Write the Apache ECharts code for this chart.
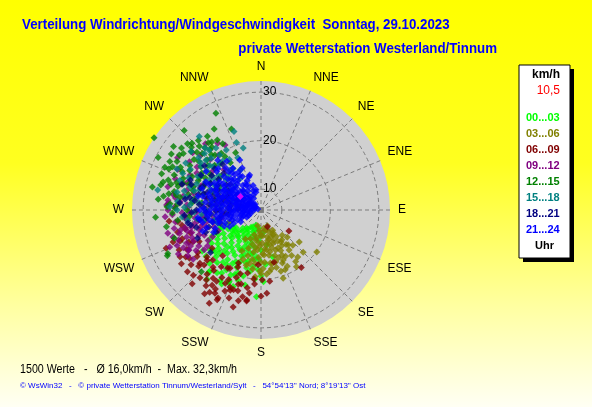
<!DOCTYPE html>
<html><head><meta charset="utf-8">
<script src="https://cdn.jsdelivr.net/npm/echarts@6/dist/echarts.min.js"></script>
<style>html,body{margin:0;padding:0;background:#fff}#c{width:592px;height:407px;}</style>
</head><body><div id="c"></div>
<script>
// ---- data ----
const directions = ['N','NNE','NE','ENE','E','ESE','SE','SSE','S','SSW','SW','WSW','W','WNW','NW','NNW'];
const radiusTicks = [10, 20, 30];
const speedMin = 5.7;
const speedMax = 32.3;
const hourRanges = ['00...03','03...06','06...09','09...12','12...15','15...18','18...21','21...24'];
const currentSpeed = '10,5';
const titleText = 'Verteilung Windrichtung/Windgeschwindigkeit  Sonntag, 29.10.2023';
const subtitleText = 'private Wetterstation Westerland/Tinnum';
const statsText = '1500 Werte   -   \u00D8 16,0km/h  -  Max. 32,3km/h';
const footerText = '\u00A9 WsWin32   -   \u00A9 private Wetterstation Tinnum/Westerland/Sylt   -   54\u00B054\'13\'\' Nord; 8\u00B019\'13\'\' Ost';

// points as [direction in degrees, speed km/h]
const h00_03 = [[180,19.3],[183,23.6],[166,15.7],[204,21.8],[220,22.5],[204,22.1],[253,15.0],[228,18.5],[220,22.2],
 [195,10.0],[205,9.5],[215,10.5],[225,11.0],[235,12.0],[200,12.0],[210,12.5],[220,13.0],[230,14.0],[240,13.5],[190,13.5],
 [198,14.5],[208,15.0],[218,15.5],[228,16.0],[236,16.5],[188,16.0],[196,17.0],[206,17.5],[214,18.0],[224,19.0],[232,19.0],
 [200,19.5],[210,20.0],[190,18.5],[185,12.0],[212,11.0],[222,17.0],[203,16.0],[215,13.5],[226,14.0],[193,15.0],[245,14.5],
 [242,17.0],[180,14.0],[185,20.0],[198,21.0],[210,22.5],[235,20.5],[175,17.0],[180,11.0],[205,13.0],
 [188,9.5],[200,10.5],[210,9.8],[220,11.5],[230,12.5],[238,14.8],[196,12.8],[204,14.0],[213,14.5],[222,14.8],[232,15.2],
 [240,15.8],[190,14.8],[200,15.5],[210,16.5],[218,17.0],[228,17.5],[236,18.0],[194,18.0],[203,18.5],[212,19.0],[220,19.8],
 [230,20.5],[215,21.5],[205,20.5],[195,19.8],[226,12.0],[234,13.0],[244,16.0],[248,13.0],[185,15.5],[183,18.0],[178,20.5],
 [192,21.5],[200,22.5],[208,23.0],[218,23.8],[170,13.0],[176,10.5],
 [192,11.5],[198,9.0],[206,11.5],[214,12.0],[222,12.8],[230,13.2],[238,12.5],[194,16.5],[202,17.2],[208,18.2],[216,19.0],
 [224,18.0],[232,17.0],[240,18.0],[246,15.0],[198,13.5],[206,14.8],[214,16.0],[222,16.0],[230,18.8],[188,17.5],[182,16.0],
 [212,21.0],[202,20.0],[224,21.0],[196,11.0],[218,10.5]];
const h03_06 = [[127,20.1],[158,19.0],[142,14.8],[145,13.2],[156,14.3],[154,11.4],[164,13.8],[160,16.2],[176,15.0],[181,18.3],
 [170,16.8],[167,11.4],[249,12.7],[150,12.0],[160,10.5],[172,9.5],[185,10.0],[195,11.0],[178,12.5],[188,13.5],[168,14.5],
 [152,16.5],[165,18.0],[175,19.0],[190,16.0],[198,14.0],[183,15.5],[172,13.0],[158,12.5],[146,17.0],[138,15.5],[135,18.0],
 [148,19.5],[162,20.5],[185,19.5],[195,17.5],[205,15.0],[200,12.0],[180,11.0],[170,10.0],[163,15.5],[155,18.5],[140,12.5],
 [130,16.0],[208,12.5],[192,9.0],
 [145,15.8],[150,14.2],[155,16.0],[160,13.0],[165,12.0],[170,15.2],[175,13.8],[180,16.5],[185,14.0],[190,12.0],[178,17.8],
 [168,17.0],[158,17.5],[152,13.0],[162,19.0],[172,18.5],[188,18.0],[196,15.5],[182,13.2],[200,16.5],[150,10.5],[142,18.0],
 [136,13.5],[166,10.0],[158,9.2],
 [148,13.5],[154,15.0],[160,14.5],[166,13.0],[172,14.0],[178,14.8],[184,12.5],[190,14.5],[194,13.0],[176,11.0],[182,10.5],
 [188,11.5],[164,16.8],[170,18.0],[176,16.5],[156,17.0],[146,18.5],[186,16.8],[192,17.0],[180,18.8],[160,11.5],[168,12.2],
 [152,11.0],[144,14.5]];
const h06_09 = [[248,26.8],[249,23.6],[226,25.1],[213,24.2],[209,27.7],[206,25.9],[189,24.7],[197,21.7],[210,21.8],[220,21.1],
 [227,20.9],[210,19.5],[203,17.6],[236,21.4],[245,21.2],[202,22.8],[209,25.3],[127,12.9],[145,20.2],[159,9.4],[183,17.0],
 [166,16.8],[179,20.1],[176,22.9],[189,24.5],[199,23.1],[195,21.5],[205,21.5],[208,19.3],[202,18.4],[262,23.0],
 [212,25.7],[206,26.3],[201,23.4],[229,22.4],[236,23.5],[229,20.5],[263,24.8],[259,22.3],[215,22.9],[255,23.5],[218,24.0],
 [232,24.0],[196,26.5],[223,26.5],[240,25.0],[215,20.0],[200,20.5],[220,18.0],[252,21.0],[265,21.5],[185,21.0],[192,19.0],
 [204,24.0],[214,26.5],[222,24.5],[230,25.5],[226,22.0],[218,21.5],[212,23.0],[196,23.0],[190,22.0],[200,25.0],[236,25.5],
 [242,23.0],[250,25.0],[256,21.8],[243,20.0],[232,18.5],[224,20.0],[198,19.5],[180,23.5],[173,20.5],
 [228,23.0],[234,22.0],[238,24.0],[244,24.5],[246,22.0],[250,23.0],[220,23.0],[216,25.0],[210,24.5],[206,22.5],[194,25.0],
 [188,23.0],[186,20.0],[192,24.0]];
const h09_12 = [[296,24.8],[274,24.9],[256,22.8],[267,24.0],[241,22.7],[254,23.2],[310,24.1],[331,21.0],[304,23.5],[304,21.6],
 [327,22.1],[280,24.1],[276,22.5],[270,24.9],[272,20.8],[257,21.8],[252,20.7],[254,18.8],[258,17.1],[263,19.4],[241,22.8],
 [240,18.3],[241,17.1],[265,17.7],[253,24.7],[273,25.2],[262,21.0],[248,19.5],[268,19.0],[245,21.0],[285,21.5],[292,19.0],
 [300,21.0],[315,20.5],[320,23.5],[260,15.5],[250,16.0],[278,20.0],[288,23.0],[258,24.0],[235,20.0],[247,24.5],[270,15.0],
 [283,17.5],[308,18.5],[318,17.0],[264,13.5],
 [244,23.5],[250,22.0],[256,20.5],[262,23.5],[268,22.0],[274,21.0],[246,18.5],[252,17.5],[238,21.5],[234,23.0],[260,19.0],
 [266,25.5],[278,23.5],[284,25.5],[290,24.5],[302,26.0],[312,22.5],[322,20.0],[296,22.0],[256,25.5],[248,26.0],[271,17.0],
 [244,15.5],[258,14.0],
 [236,19.0],[240,20.5],[243,22.0],[246,22.5],[250,23.8],[254,21.5],[258,19.8],[262,18.0],[238,23.5],[242,25.0],[248,21.0],
 [252,19.0],[256,18.0],[264,21.5],[268,20.5],[272,23.5],[276,25.0],[280,22.0],[284,20.0],[290,22.0]];
const h12_15 = [[304,32.3],[335,27.7],[282,28.6],[244,27.2],[306,28.0],[312,26.1],[312,25.0],[322,23.3],[328,22.7],[322,22.2],
 [336,18.6],[294,27.4],[286,26.7],[272,25.1],[300,25.7],[299,22.5],[313,20.9],[319,18.5],[327,17.3],[302,20.1],[289,22.7],
 [279,22.6],[286,20.3],[290,16.5],[270,21.0],[277,18.0],[245,26.9],[224,23.4],[271,23.4],[288,25.8],[296,23.8],[308,22.0],
 [316,24.0],[305,18.5],[295,20.0],[282,24.0],[292,18.5],[310,16.5],[300,15.5],[265,20.5],[275,16.0],[318,21.0],[325,20.0],
 [285,14.5],[298,17.5],[263,23.0],[330,25.0],[316,28.5],[297,29.5],[307,23.0],[289,20.5],[280,19.5],
 [298,27.0],[304,26.0],[310,24.5],[318,23.0],[324,24.5],[292,25.0],[286,23.5],[280,25.0],[274,23.0],[268,24.0],[302,23.0],
 [310,20.0],[296,21.5],[290,21.5],[282,21.0],[276,20.0],[300,19.0],[314,19.0],[320,20.5],[294,26.5],[306,25.5],[284,27.0],
 [278,26.0],[330,21.5],[340,23.5],[260,25.5],[266,27.5],[252,24.5],[298,24.5],[288,24.0],[314,22.5],[326,19.0],
 [296,26.0],[302,27.5],[308,26.5],[314,25.5],[320,22.0],[292,23.0],[286,25.0],[280,23.5],[274,24.5],[306,21.0],[298,20.0],
 [312,23.5],[318,25.0],[324,23.0],[290,27.5],[276,27.0]];
const h15_18 = [[341,22.8],[340,20.5],[281,27.4],[323,19.9],[315,22.2],[318,23.0],[295,23.5],[282,23.4],[288,21.1],[277,18.6],
 [311,15.2],[322,16.1],[311,19.7],[274,20.4],[272,24.5],[319,22.0],[300,18.0],[305,16.5],[290,15.5],[285,18.0],[298,20.5],
 [308,21.5],[280,16.0],[293,13.5],[302,14.0],[270,17.0],[265,22.0],[328,18.0],[296,25.0],[313,13.0],[287,12.0],[275,14.0],
 [262,19.0],[310,24.5],[333,15.0],[258,15.5],
 [300,22.5],[306,19.5],[312,21.0],[318,18.5],[324,21.5],[330,20.0],[292,17.0],[286,20.0],[280,21.5],[276,23.0],[268,19.5],
 [296,15.0],[304,13.0],[316,15.5],[326,13.5],[290,23.5],[302,24.0],[309,17.0],[284,15.0],[272,21.5],[260,17.5],[336,17.5],
 [344,19.0],[320,25.5],
 [300,20.0],[296,18.5],[292,20.0],[288,19.0],[284,22.0],[278,20.0],[306,21.0],[312,19.0],[316,20.5],[322,18.5],[266,18.0],
 [262,21.0],[294,22.0],[270,23.0],[310,22.5],[326,16.0],[304,17.5],[298,16.5]];
const h18_21 = [[288,22.8],[280,20.6],[288,17.4],[273,17.7],[270,14.2],[282,15.4],[291,13.2],[305,18.1],[230,19.3],[261,18.6],
 [275,22.5],[265,16.0],[278,12.0],[295,15.5],[300,20.0],[268,20.0],[284,19.0],[258,14.5],[292,11.0],[310,14.0],[272,10.5],
 [262,12.5],[298,17.5],[285,13.5],[276,16.5],[252,17.0],[290,21.0],[315,16.5],[266,21.5],[281,10.0],
 [265,13.0],[270,19.0],[278,21.5],[286,16.0],[294,18.5],[300,16.0],[306,14.5],[312,18.5],[255,19.5],[248,18.0],[260,21.0],
 [275,18.5],[283,12.5],[289,15.0],[296,13.0],[302,11.5],[268,15.0],[280,14.0],[293,21.5],[308,20.5],[320,18.0],[274,12.5],
 [262,17.0],[286,18.0],
 [256,16.0],[262,14.0],[270,12.0],[276,15.0],[282,17.0],[288,14.0],[294,16.0],[300,13.5],[306,16.5],[252,14.5],[244,16.0],
 [268,17.0],[278,19.5],[290,19.0],[258,20.5],[246,20.0]];
const h21_24 = [[288,6.4],[275,7.5],[295,7.8],[305,8.2],[265,8.5],[282,8.8],[315,9.0],[298,9.3],[272,9.6],[290,9.9],[310,10.2],
 [325,10.5],[260,10.6],[280,10.8],[300,11.0],[318,11.2],[268,11.4],[286,11.6],[306,11.8],[330,12.0],[276,12.2],[294,12.4],
 [312,12.6],[262,12.8],[284,13.0],[302,13.2],[322,13.4],[270,13.6],[292,13.8],[308,14.0],[280,14.2],[298,14.4],[316,14.6],
 [258,14.8],[288,15.0],[305,15.2],[322,15.4],[274,15.6],[294,15.8],[312,16.0],[266,16.3],[284,16.5],[300,16.8],[320,17.0],
 [278,17.3],[296,17.6],[314,18.0],[270,18.3],[290,18.6],[319,19.3],[261,18.4],[282,19.0],[305,19.5],[326,16.1],[318,13.0],
 [296,10.0],[284,11.0],[276,9.0],[302,7.2],[312,11.5],[292,12.0],[266,14.0],[254,12.5],[259,16.5],[328,14.0],[333,11.0],
 [310,8.5],[278,15.0],[298,16.0],[287,17.0],[303,14.8],[290,13.0],[270,11.0],[315,13.8],[250,13.5],[248,15.9],[255,10.0],[252,17.5],
 [240,10.5],[244,12.0],[246,14.0],[243,9.0],[250,8.0],[256,11.5],[257,13.5],[262,9.5],[263,15.0],[267,10.0],[268,17.2],
 [272,12.5],[273,14.5],[277,10.3],[279,13.2],[281,16.0],[283,7.0],[285,9.3],[286,14.2],[289,10.8],[291,15.6],[293,8.6],
 [295,11.8],[297,13.5],[299,7.0],[301,12.3],[303,9.8],[304,16.0],[307,10.6],[309,13.0],[311,9.4],[313,15.0],[314,7.4],
 [317,11.0],[319,14.2],[321,9.3],[323,12.0],[324,14.8],[327,8.5],[329,11.6],[331,13.6],[333,9.2],[335,12.4],[336,15.2],
 [338,10.0],[340,13.0],[342,11.0],[344,9.5],[337,16.9],[342,13.3],[346,10.0],[325,18.0],[311,17.8],[297,18.5],[283,18.0],
 [270,16.2],[258,18.0],[253,15.0],[247,11.0],[292,16.7],[306,12.8],[318,10.0],[300,14.2],[288,12.6],[276,13.6],[264,11.7],
 [282,10.0],[296,8.6],[308,7.6],[320,16.0],[330,14.8],
 [242,13.0],[245,16.5],[248,10.0],[251,12.0],[254,14.5],[257,9.0],[259,12.0],[261,14.0],[264,16.8],[266,9.2],[269,12.0],
 [271,15.0],[274,8.3],[275,11.0],[277,16.0],[279,9.5],[281,12.0],[283,14.8],[285,11.0],[287,8.0],[289,14.0],[291,9.0],
 [293,11.0],[295,14.5],[297,10.5],[299,12.8],[301,8.3],[303,11.5],[260,8.0],[268,7.2],[252,9.5],[246,8.5],[256,16.0],
 [272,17.5],[263,18.8],[250,18.5]];
const currentPoint = [[303, 10.8]];

// ---- drawing ----
const seriesData = [h00_03, h03_06, h06_09, h09_12, h12_15, h15_18, h18_21, h21_24];
const seriesColors = ['#00ff00','#808000','#800000','#800080','#008000','#008080','#000080','#0000ff'];
const FONT = '"Liberation Sans", Arial, sans-serif';

const chart = echarts.init(document.getElementById('c'), null, {renderer: 'canvas'});

const series = seriesData.map((arr, i) => ({
  type: 'scatter', coordinateSystem: 'polar', name: hourRanges[i],
  symbol: 'diamond', symbolSize: 7, z: 3,
  itemStyle: {color: seriesColors[i]},
  data: arr.map(p => [p[1], p[0]]),
  silent: true
}));
series.push({
  type: 'scatter', coordinateSystem: 'polar', name: 'aktuell', z: 3,
  symbol: 'diamond', symbolSize: 7, itemStyle: {color: '#ff00ff'},
  data: currentPoint.map(p => [p[1], p[0]]), silent: true
});

const legendTexts = [];
legendTexts.push({type:'text', left: 532, top: 69, style:{text:'km/h', fill:'#000', font:'bold 12px ' + FONT}});
legendTexts.push({type:'text', right: 592-560, top: 85, style:{text: currentSpeed, fill:'#ff0000', font:'12px ' + FONT}});
hourRanges.forEach((t, i) => {
  legendTexts.push({type:'text', left: 526, top: 112 + i*16, style:{text: t, fill: seriesColors[i], font:'bold 11px ' + FONT}});
});
legendTexts.push({type:'text', left: 535, top: 240, style:{text:'Uhr', fill:'#000', font:'bold 11px ' + FONT}});

chart.setOption({
  animation: false,
  backgroundColor: {type:'linear', x:0, y:0, x2:0, y2:1, colorStops:[
    {offset:0, color:'#ffff00'}, {offset:0.4, color:'#ffff20'}, {offset:0.75, color:'#ffffa0'}, {offset:1, color:'#fffff4'}]},
  polar: {center: [261, 210], radius: 129},
  angleAxis: {
    type: 'value', min: 0, max: 360, interval: 22.5, startAngle: 90, clockwise: true, z: 1,
    axisLine: {show: false}, axisTick: {show: false},
    axisLabel: {margin: 8, color: '#000', fontFamily: FONT, fontSize: 12,
      formatter: v => (v >= 360 ? '' : directions[Math.round(v / 22.5) % 16])},
    splitLine: {show: true, lineStyle: {color: '#7c7c7c', type: [4, 3], width: 1}},
    splitArea: {show: false}
  },
  radiusAxis: {
    type: 'value', min: speedMin, max: speedMax, z: 1,
    axisLine: {show: false},
    axisTick: {show: false, customValues: radiusTicks},
    axisLabel: {show: true, customValues: radiusTicks, color: '#000', fontFamily: FONT, fontSize: 12,
      margin: -2, align: 'left', verticalAlign: 'middle'},
    splitLine: {show: true, lineStyle: {color: '#7c7c7c', type: [4, 3], width: 1}}
  },
  series: series,
  graphic: [
    {type:'circle', z: -5, shape:{cx: 261, cy: 210, r: 129}, style:{fill:'#d0d0d0'}, silent: true},
    {type:'rect', z: 0, shape:{x: 258, y: 207, width: 6, height: 6}, style:{fill:'#8a8a8a'}, silent: true},
    {type:'text', x: 22, y: 25, scaleX: 0.95, style:{text: titleText, fill:'#0000ff', font:'bold 14px ' + FONT, align:'left', verticalAlign:'middle'}},
    {type:'text', x: 497, y: 48.7, scaleX: 0.95, style:{text: subtitleText, fill:'#0000ff', font:'bold 14px ' + FONT, align:'right', verticalAlign:'middle'}},
    {type:'text', x: 20, y: 370, scaleX: 0.89, style:{text: statsText, fill:'#000', font:'12px ' + FONT, align:'left', verticalAlign:'middle'}},
    {type:'text', x: 20, y: 386, style:{text: footerText, fill:'#0000ff', font:'8px ' + FONT, align:'left', verticalAlign:'middle'}},
    {type:'rect', shape:{x: 523, y: 69, width: 51, height: 193}, style:{fill:'#000'}},
    {type:'rect', shape:{x: 519, y: 65, width: 51, height: 193}, style:{fill:'#fff', stroke:'#000', lineWidth: 1}},
    ...legendTexts
  ]
});
</script></body></html>
